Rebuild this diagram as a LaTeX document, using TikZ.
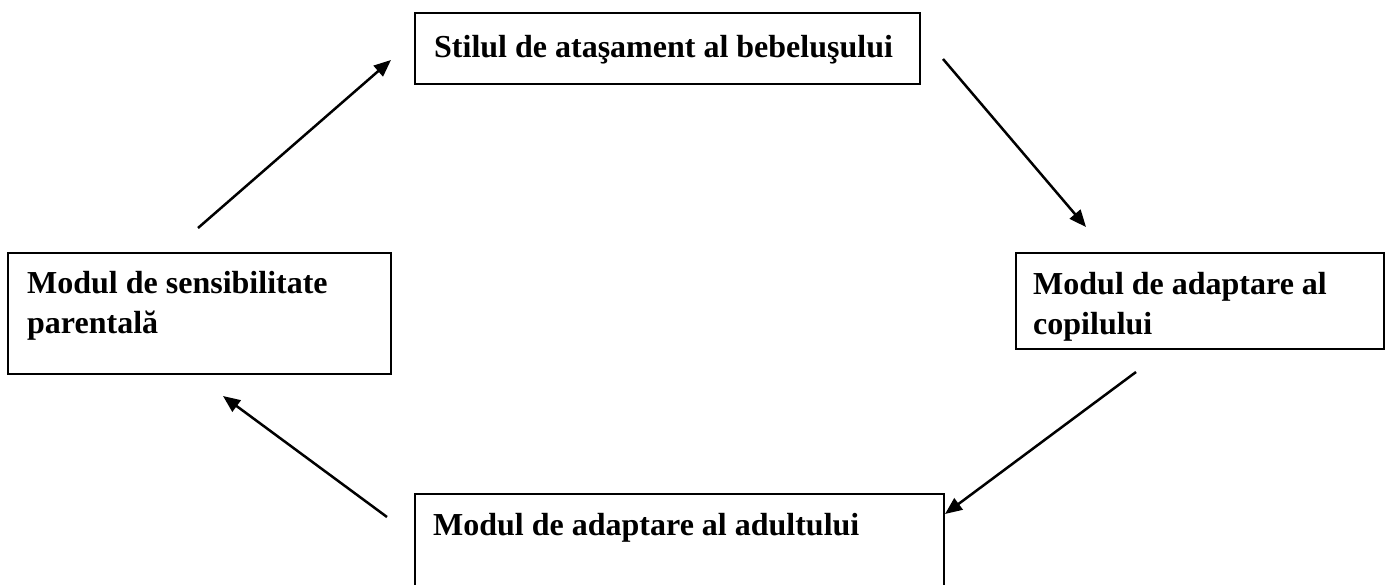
\documentclass[tikz,border=0pt]{standalone}
\usepackage{fontspec}
\setmainfont{Liberation Serif}
\usetikzlibrary{arrows.meta}
\begin{document}
\begin{tikzpicture}[x=1pt,y=-1pt,
  box/.style={draw=black, line width=2pt, inner sep=0pt, anchor=north west},
  lbl/.style={anchor=base west, inner sep=0pt, font=\fontsize{32}{40}\selectfont\bfseries, align=left},
  conn/.style={line width=2.5pt, -{Triangle[length=17pt,width=14pt]}}]
\useasboundingbox[fill=white] (0,0) rectangle (1388,585);
% boxes
\node[box, minimum width=505pt, minimum height=71pt] (top) at (414,12) {};
\node[box, minimum width=383pt, minimum height=121pt] (left) at (7,252) {};
\node[box, minimum width=368pt, minimum height=96pt] (right) at (1015,252) {};
\node[box, minimum width=529pt, minimum height=120pt] (bottom) at (414,493) {};
% labels
\node[lbl] (ttop) at (434,58) {Stilul de ataşament al bebeluşului};
\node[lbl, anchor=north west] (tleft) at (27,271) {Modul de sensibilitate\\parentală};
\node[lbl, anchor=north west] (tright) at (1033,272) {Modul de adaptare al\\copilului};
\node[lbl] (tbottom) at (433,535) {Modul de adaptare al adultului};
% connector ends
\coordinate (a1s) at (198,228);
\coordinate (a1e) at (391,60);
\coordinate (a2s) at (943,59);
\coordinate (a2e) at (1086,227);
\coordinate (a3s) at (1136,372);
\coordinate (a3e) at (945,514);
\coordinate (a4s) at (387,517);
\coordinate (a4e) at (223,396);
\draw[conn] (a1s) -- (a1e);
\draw[conn] (a2s) -- (a2e);
\draw[conn] (a3s) -- (a3e);
\draw[conn] (a4s) -- (a4e);
\end{tikzpicture}
\end{document}
